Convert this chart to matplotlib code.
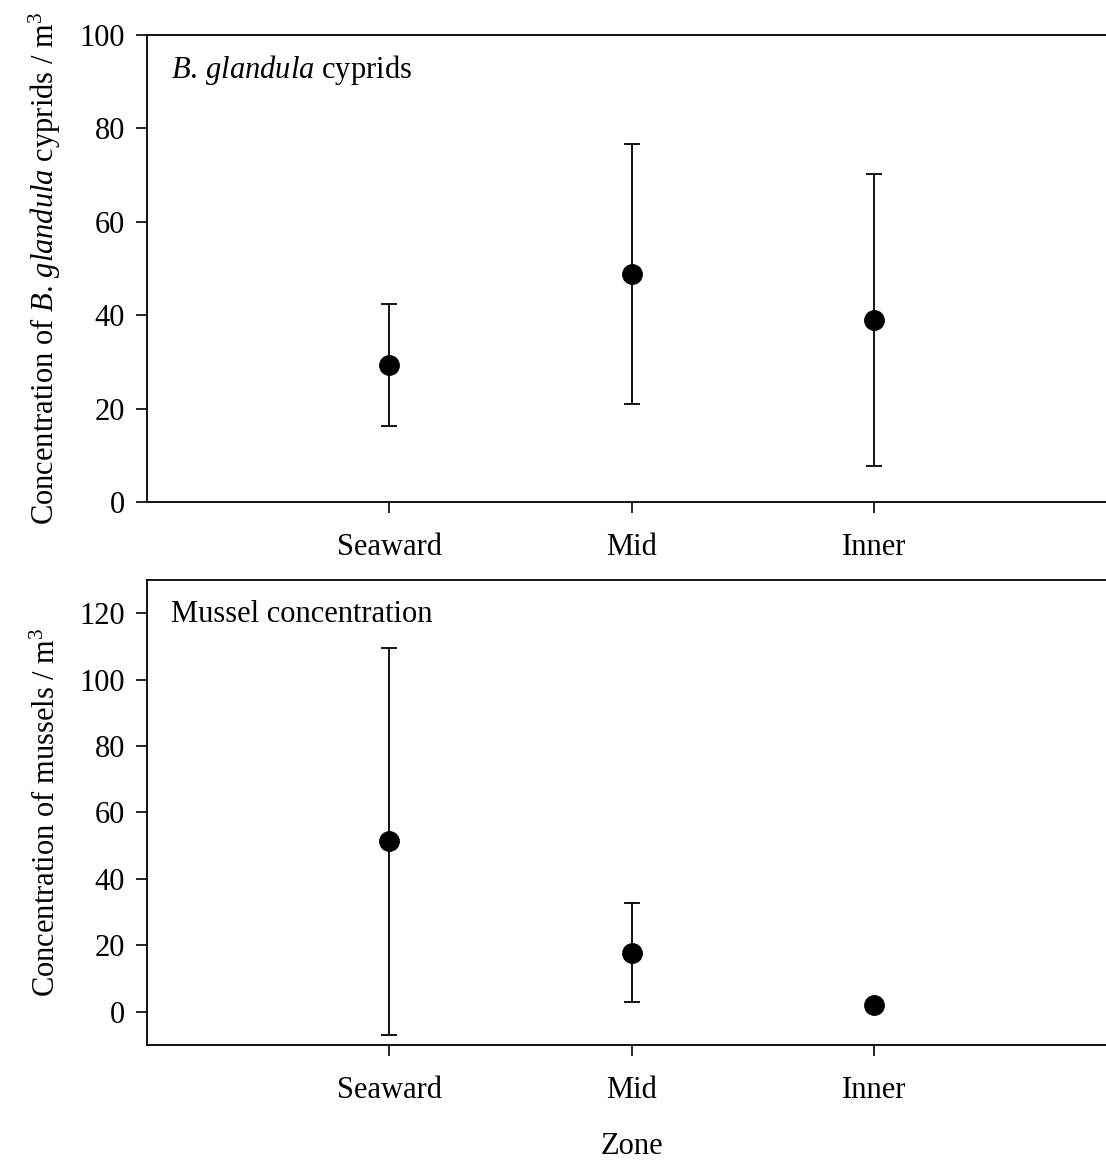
import matplotlib.pyplot as plt
import numpy as np

plt.rcParams['font.family'] = ['Liberation Serif', 'DejaVu Serif']
plt.rcParams['mathtext.fontset'] = 'custom'
plt.rcParams['mathtext.rm'] = 'Liberation Serif'
plt.rcParams['mathtext.it'] = 'Liberation Serif:italic'

zones = ["Seaward", "Mid", "Inner"]

# cyprid concentration (mean and error) per zone
cyprid_mean = [29.3, 48.8, 39.0]
cyprid_err = [13.0, 27.8, 31.3]

# mussel concentration (mean and error) per zone
mussel_mean = [51.3, 17.8, 2.1]
mussel_err = [58.2, 14.8, 1.5]

fig = plt.figure(figsize=(11.06, 11.63), dpi=100)
ax1 = fig.add_axes([0.1329, 0.5684, 0.8770, 0.4015])
ax2 = fig.add_axes([0.1329, 0.1015, 0.8770, 0.3998])

x = np.arange(1, len(zones) + 1)


def style(ax, mean, err, ylim, yticks, ylabel, note):
    ax.errorbar(x, mean, yerr=err, fmt='o', color='black', ms=14,
                ecolor='black', elinewidth=1.3, capsize=6, capthick=1.3)
    ax.set_xlim(0, 4)
    ax.set_ylim(*ylim)
    ax.set_yticks(yticks)
    ax.set_xticks(x)
    ax.set_xticklabels(zones)
    ax.spines['right'].set_visible(False)
    for s in ['left', 'bottom', 'top']:
        ax.spines[s].set_linewidth(1.3)
    ax.tick_params(axis='both', direction='out', length=8, width=1.2,
                   labelsize=22)
    ax.tick_params(axis='x', pad=14)
    ax.tick_params(axis='y', pad=8)
    ax.set_ylabel(ylabel, fontsize=22, labelpad=12)
    ax.text(0.025, 0.925, note, transform=ax.transAxes, fontsize=22,
            ha='left', va='center')


style(ax1, cyprid_mean, cyprid_err, (0, 100), [0, 20, 40, 60, 80, 100],
      r"Concentration of $\mathit{B.\,glandula}$ cyprids / m$^3$",
      r"$\mathit{B.\,glandula}$ cyprids")
style(ax2, mussel_mean, mussel_err, (-10, 130), [0, 20, 40, 60, 80, 100, 120],
      r"Concentration of mussels / m$^3$",
      "Mussel concentration")
ax2.set_xlabel("Zone", fontsize=22, labelpad=20)

plt.savefig('out.png')
